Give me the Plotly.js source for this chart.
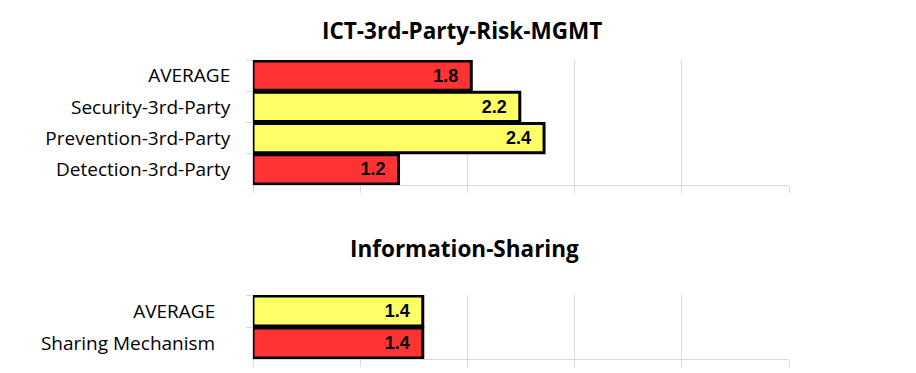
<!DOCTYPE html>
<html>
<head>
<meta charset="utf-8">
<script src="https://cdn.plot.ly/plotly-3.0.1.min.js"></script>
<style>html,body{margin:0;padding:0;background:#fff;}#chart{width:916px;height:373px;}</style>
</head>
<body>
<div id="chart"></div>
<script>
// Data
const topTitle = "ICT-3rd-Party-Risk-MGMT";
const topCategories = ["AVERAGE", "Security-3rd-Party", "Prevention-3rd-Party", "Detection-3rd-Party"];
const topValues = [1.8, 2.2, 2.4, 1.2];
const topColors = ["#FF3333", "#FFFF66", "#FFFF66", "#FF3333"];

const bottomTitle = "Information-Sharing";
const bottomCategories = ["AVERAGE", "Sharing Mechanism"];
const bottomValues = [1.4, 1.4];
const bottomColors = ["#FFFF66", "#FF3333"];

const xMax = 4.42;
const W = 916, H = 373;
const labelFont = "Open Sans, Noto Sans, sans-serif";

function barTrace(cats, vals, cols, xa, ya) {
  return {
    type: "bar", orientation: "h",
    y: cats, x: vals, xaxis: xa, yaxis: ya,
    marker: {color: cols, line: {color: "#000000", width: 3}},
    text: vals.map(v => v.toFixed(1) + "\u00a0\u00a0"),
    textposition: "inside", insidetextanchor: "end", textangle: 0,
    constraintext: "none",
    insidetextfont: {family: "Liberation Sans, Arial, sans-serif", size: 18, color: "#000000", weight: "bold"},
    hoverinfo: "none", showlegend: false
  };
}

const data = [
  barTrace(topCategories, topValues, topColors, "x", "y"),
  barTrace(bottomCategories, bottomValues, bottomColors, "x2", "y2")
];

const xCommon = {
  range: [0, xMax], tick0: 0, dtick: xMax / 5,
  showgrid: true, gridcolor: "#d9d9d9", gridwidth: 1,
  showline: true, linecolor: "#d9d9d9", linewidth: 1,
  ticks: "outside", ticklen: 7, tickcolor: "#d9d9d9",
  showticklabels: false, zeroline: false, fixedrange: true
};
const yCommon = {
  type: "category", autorange: "reversed",
  showgrid: false, zeroline: false,
  showline: true, linecolor: "#d9d9d9", linewidth: 1,
  ticks: "outside", ticklen: 6, tickcolor: "#d9d9d9", tickson: "boundaries",
  tickfont: {family: labelFont, size: 19, color: "#000000"},
  fixedrange: true
};

const layout = {
  width: W, height: H,
  margin: {l: 253, r: 127, t: 0, b: 0},
  paper_bgcolor: "#ffffff", plot_bgcolor: "#ffffff",
  bargap: 0.07,
  xaxis: Object.assign({}, xCommon, {anchor: "y", domain: [0, 1]}),
  yaxis: Object.assign({}, yCommon, {anchor: "x", domain: [1 - 185 / H, 1 - 60 / H], ticklabelstandoff: 18}),
  xaxis2: Object.assign({}, xCommon, {anchor: "y2", domain: [0, 1]}),
  yaxis2: Object.assign({}, yCommon, {anchor: "x2", domain: [1 - 359 / H, 1 - 295 / H], ticklabelstandoff: 33}),
  annotations: [
    {text: "<b>" + topTitle + "</b>", xref: "paper", yref: "paper", x: (462 - 253) / 536, y: 1 - 30 / H,
     xanchor: "center", yanchor: "middle", showarrow: false,
     font: {family: labelFont, size: 22.5, color: "#000000"}},
    {text: "<b>" + bottomTitle + "</b>", xref: "paper", yref: "paper", x: (464 - 253) / 536, y: 1 - 248 / H,
     xanchor: "center", yanchor: "middle", showarrow: false,
     font: {family: labelFont, size: 22.5, color: "#000000"}}
  ]
};

Plotly.newPlot("chart", data, layout, {displayModeBar: false, staticPlot: true});
</script>
</body>
</html>
